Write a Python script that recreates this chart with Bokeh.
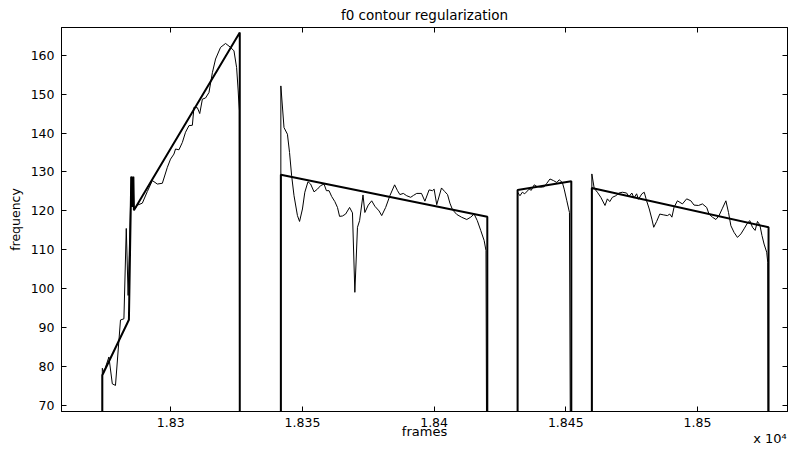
from bokeh.plotting import figure
from bokeh.models import FixedTicker, LinearAxis, Range1d
from bokeh.embed import file_html
from bokeh.resources import INLINE

# ---------------- data (frame, f0) ; f0 = 0 where unvoiced ----------------
raw_seg1 = [(18274.0, 0), (18274.0, 79.6), (18274.6, 78.6), (18276.5, 82.5), (18277.8, 75.6),
            (18279.0, 75.2), (18280.9, 92.0), (18282.2, 92.3), (18283.1, 115.5), (18283.8, 98.3),
            (18285.0, 128.8), (18285.4, 122.0), (18285.7, 128.8), (18286.0, 120.2), (18287.4, 121.5),
            (18289.2, 122.0), (18291.1, 125.0), (18293.0, 127.8), (18294.9, 126.9), (18296.8, 127.1),
            (18298.7, 131.2), (18299.9, 133.3), (18301.2, 134.6), (18301.8, 135.9), (18303.1, 135.7),
            (18304.4, 137.6), (18305.6, 140.2), (18306.9, 141.9), (18308.2, 142.0), (18308.8, 146.6),
            (18310.1, 146.5), (18311.0, 145.0), (18312.0, 148.7), (18313.2, 149.0), (18314.5, 150.4),
            (18315.8, 155.5), (18317.0, 159.0), (18318.9, 162.0), (18320.8, 163.0), (18322.7, 162.0),
            (18324.0, 161.1), (18325.0, 156.8), (18325.6, 150.8), (18326.0, 145.7), (18326.2, 0)]

raw_seg2 = [(18341.8, 0), (18341.8, 152.1), (18343.0, 141.4), (18344.3, 139.7), (18345.1, 135.0),
            (18345.9, 129.0), (18346.8, 123.9), (18348.1, 118.8), (18348.9, 117.3), (18350.0, 120.5),
            (18350.9, 124.8), (18352.1, 127.5), (18353.1, 126.9), (18354.4, 124.9), (18355.7, 125.6),
            (18356.9, 126.5), (18358.2, 126.9), (18359.1, 125.2), (18360.1, 125.2), (18361.1, 123.7),
            (18362.3, 122.4), (18363.3, 120.9), (18364.1, 118.6), (18365.2, 118.7), (18366.4, 119.2),
            (18367.9, 120.9), (18369.0, 119.5), (18369.9, 99.1), (18370.9, 115.8), (18371.7, 117.5),
            (18373.0, 124.1), (18373.7, 119.6), (18375.0, 121.5), (18376.3, 122.6), (18377.5, 121.2),
            (18379.1, 120.0), (18380.1, 118.8), (18381.6, 120.9), (18383.2, 123.9), (18385.0, 126.7),
            (18386.1, 125.2), (18387.0, 124.2), (18388.3, 124.5), (18389.6, 123.9), (18391.1, 123.5),
            (18392.2, 124.0), (18393.4, 124.5), (18395.2, 124.5), (18396.5, 122.5), (18398.1, 125.4),
            (18399.4, 125.2), (18400.0, 125.6), (18401.0, 121.6), (18402.8, 125.9), (18404.0, 125.0),
            (18405.1, 124.2), (18406.0, 122.0), (18407.0, 120.3), (18408.6, 119.1), (18410.4, 118.4),
            (18412.4, 117.8), (18413.9, 118.4), (18415.2, 119.2), (18416.4, 117.5), (18417.7, 115.0),
            (18419.0, 112.4), (18419.7, 109.8), (18420.2, 0)]

raw_seg3 = [(18431.7, 0), (18431.7, 124.8), (18432.6, 123.9), (18433.5, 124.8), (18434.4, 124.4),
            (18436.1, 125.6), (18436.9, 125.3), (18438.0, 126.7), (18439.0, 126.3), (18440.5, 126.1),
            (18441.8, 126.2), (18442.8, 127.1), (18444.0, 128.2), (18445.3, 127.8), (18446.6, 127.3),
            (18447.5, 128.0), (18448.7, 127.3), (18449.4, 125.6), (18450.4, 122.6), (18451.4, 119.6),
            (18452.1, 0)]

raw_seg4 = [(18459.9, 0), (18459.9, 129.5), (18460.8, 125.8), (18462.0, 124.8), (18463.3, 123.5),
            (18464.9, 121.4), (18465.8, 123.1), (18466.7, 122.4), (18467.7, 123.5), (18469.0, 123.9),
            (18470.2, 124.6), (18471.5, 124.8), (18473.1, 124.6), (18474.0, 123.7), (18475.1, 124.6),
            (18475.9, 123.3), (18476.9, 124.4), (18477.6, 123.0), (18478.9, 124.4), (18479.8, 124.8),
            (18480.7, 122.6), (18481.7, 120.5), (18482.7, 117.9), (18483.4, 115.8), (18484.5, 117.3),
            (18485.7, 119.2), (18487.0, 119.0), (18488.6, 118.8), (18489.5, 119.2), (18490.3, 118.4),
            (18491.1, 120.9), (18492.4, 122.6), (18494.3, 121.8), (18495.9, 123.1), (18497.5, 122.6),
            (18498.7, 121.5), (18500.4, 121.4), (18501.9, 121.8), (18503.5, 120.9), (18504.4, 119.2),
            (18505.7, 118.4), (18507.0, 117.8), (18508.2, 118.8), (18509.5, 120.7), (18510.8, 122.6),
            (18511.8, 119.6), (18512.7, 116.2), (18513.9, 114.5), (18515.2, 113.2), (18516.5, 114.1),
            (18517.7, 115.4), (18519.0, 116.9), (18519.9, 117.5), (18520.9, 115.8), (18521.9, 115.0),
            (18522.8, 117.3), (18523.7, 116.4), (18524.5, 113.7), (18525.3, 111.5), (18526.3, 109.4),
            (18526.7, 106.8), (18527.0, 0)]

# regularized (piecewise linear) contour
reg_seg1 = [(18274.0, 0), (18274.0, 77.8), (18284.1, 92.05), (18285.0, 128.8), (18285.5, 121.0),
            (18285.8, 128.8), (18286.0, 120.2), (18326.2, 165.8), (18326.2, 0)]
reg_seg2 = [(18341.8, 0), (18341.8, 129.3), (18420.2, 118.5), (18420.2, 0)]
reg_seg3 = [(18431.7, 0), (18431.7, 125.4), (18452.1, 127.6), (18452.1, 0)]
reg_seg4 = [(18459.9, 0), (18459.9, 125.9), (18527.0, 115.8), (18527.0, 0)]

x_ticks = [18300, 18350, 18400, 18450, 18500]
x_tick_labels = ["1.83", "1.835", "1.84", "1.845", "1.85"]
y_ticks = [70, 80, 90, 100, 110, 120, 130, 140, 150, 160]

title_text = "f0 contour regularization"
x_label = "frames"
y_label = "frequency"
x_scale_text = "x 10\u2074"

FONT = "DejaVu Sans"
X0, X1 = 18258.5, 18534.2
Y0, Y1 = 68.5, 167.1
W, H = 789, 449
B_LEFT, B_RIGHT, B_TOP, B_BOTTOM = 61, 2, 27, 38

p = figure(width=W, height=H,
           x_range=Range1d(X0, X1), y_range=Range1d(Y0, Y1),
           output_backend="svg", toolbar_location=None,
           title=title_text, y_axis_label=y_label,
           min_border_left=B_LEFT, min_border_right=B_RIGHT,
           min_border_top=B_TOP, min_border_bottom=B_BOTTOM)

p.background_fill_color = "white"
p.border_fill_color = "white"
p.outline_line_color = "black"
p.outline_line_width = 1
p.xgrid.visible = False
p.ygrid.visible = False

p.title.text_font = FONT
p.title.text_font_size = "13.5px"
p.title.text_font_style = "normal"
p.title.text_color = "black"
p.title.align = "center"
p.title.standoff = 9

def style_axis(ax, ticks, labels=True):
    ax.ticker = FixedTicker(ticks=ticks)
    ax.major_tick_in = 5
    ax.major_tick_out = 0
    ax.minor_tick_in = 0
    ax.minor_tick_out = 0
    ax.axis_line_color = "black"
    ax.major_tick_line_color = "black"
    ax.major_label_text_font = FONT
    ax.axis_label_text_font = FONT
    ax.axis_label_text_font_style = "normal"
    ax.axis_label_text_color = "black"
    ax.axis_label_text_font_size = "12.5px"
    if labels:
        ax.major_label_text_font_size = "12.5px"
        ax.major_label_text_color = "black"
    else:
        # tick marks only: labels are not painted
        ax.major_label_text_font_size = "1px"
        ax.major_label_text_color = None
        ax.major_label_standoff = 0

style_axis(p.xaxis[0], x_ticks)
p.xaxis[0].major_label_overrides = {t: s for t, s in zip(x_ticks, x_tick_labels)}
p.xaxis[0].major_label_standoff = 6

style_axis(p.yaxis[0], y_ticks)
p.yaxis[0].major_label_standoff = 7
p.yaxis[0].axis_label_standoff = 5

top_axis = LinearAxis()
style_axis(top_axis, x_ticks, labels=False)
p.add_layout(top_axis, "above")
right_axis = LinearAxis()
style_axis(right_axis, y_ticks, labels=False)
p.add_layout(right_axis, "right")

# line-less axis rows below carry the axis title "frames" (centred)
# and the "x 10^4" multiplier (flush with the right edge of the frame)
frame_w = W - B_LEFT - B_RIGHT
units_per_px = (X1 - X0) / frame_w
mult_half_width_px = 17.5
center_tick = round((X0 + X1) / 2, 2)
mult_tick = round(X1 - mult_half_width_px * units_per_px, 2)

def text_row(tick, text, standoff):
    ax = LinearAxis(ticker=FixedTicker(ticks=[tick]))
    ax.major_label_overrides = {tick: text}
    ax.axis_line_color = None
    ax.major_tick_line_color = None
    ax.minor_tick_line_color = None
    ax.major_tick_in = 0
    ax.major_tick_out = 0
    ax.minor_tick_in = 0
    ax.minor_tick_out = 0
    ax.major_label_standoff = standoff
    ax.major_label_text_font = FONT
    ax.major_label_text_font_size = "13px"
    ax.major_label_text_color = "black"
    return ax

p.add_layout(text_row(center_tick, x_label, -6), "below")
p.add_layout(text_row(mult_tick, x_scale_text, -11), "below")

for seg in (raw_seg1, raw_seg2, raw_seg3, raw_seg4):
    xs, ys = zip(*seg)
    p.line(list(xs), list(ys), line_color="black", line_width=1)

for seg in (reg_seg1, reg_seg2, reg_seg3, reg_seg4):
    xs, ys = zip(*seg)
    p.line(list(xs), list(ys), line_color="black", line_width=2)

open("out.html", "w").write(file_html(p, INLINE))
